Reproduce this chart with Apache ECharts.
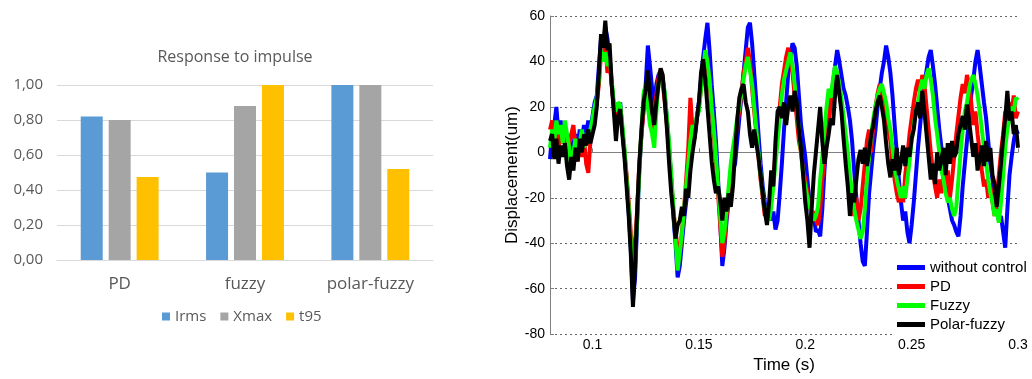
<!DOCTYPE html>
<html>
<head>
<meta charset="utf-8">
<script src="https://cdn.jsdelivr.net/npm/echarts@6/dist/echarts.min.js"></script>
<style>
  html, body { margin: 0; padding: 0; background: #fff; }
  #chart { width: 1032px; height: 379px; }
</style>
</head>
<body>
<div id="chart"></div>
<script>
// left panel: normalised indices per controller
const methods = ['PD', 'fuzzy', 'polar-fuzzy']
const irms = [0.82, 0.50, 1.00]
const xmax = [0.80, 0.88, 1.00]
const t95 = [0.475, 1.00, 0.52]

// right panel: displacement traces, sampled every 1 ms from 0.080 s to 0.300 s
const TIME_START = 0.08
const TIME_STEP = 0.001
const timeTicks = [0.1, 0.15, 0.2, 0.25, 0.3]

const withoutControl = [
  -3, 8, 12, 20, 8, 14, 5, 10, 2, 6,
  -2, 4, 8, 2, 10, 6, 12, 8, 14, 10,
  16, 22, 25, 38, 50, 46, 55, 50, 42, 30,
  20, 12, 18, 22, 10, 0, -12, -26, -42, -65,
  -55, -30, -8, 8, 20, 30, 47, 38, 28, 20,
  30, 34, 36, 32, 25, 14, 2, -12, -28, -40,
  -55, -50, -40, -30, -22, -15, -5, 2, 8, 15,
  22, 32, 42, 50, 57, 45, 30, 18, 5, -12,
  -30, -50, -42, -30, -22, -10, -8, -5, 5, 15,
  25, 35, 45, 55, 57, 48, 35, 22, 8, -5,
  -15, -22, -28, -25, -30, -26, -34, -30, -18, -5,
  10, 22, 35, 42, 48, 46, 38, 25, 12, 5,
  -2, -12, -22, -30, -28, -35, -34, -37, -25, -8,
  5, 15, 22, 30, 38, 45, 40, 34, 28, 25,
  20, 14, 5, -8, -20, -30, -40, -48, -50, -35,
  -18, -8, 2, 10, 20, 28, 35, 40, 47, 42,
  35, 25, 12, 0, -12, -22, -30, -26, -35, -40,
  -32, -22, -10, 2, 12, 22, 30, 36, 42, 45,
  38, 30, 20, 10, 2, -8, -15, -20, -25, -30,
  -32, -35, -37, -28, -15, -5, 5, 15, 25, 32,
  40, 45, 38, 30, 22, 15, 5, -5, -12, -20,
  -25, -30, -28, -35, -42, -25, -10, -2, 5, 10,
  8
]

const pd = [
  10, 14, 6, 12, 2, 8, 4, 10, -2, 4,
  8, 12, 2, -4, 4, -2, 6, -5, -9, 5,
  12, 18, 22, 30, 44, 40, 48, 35, 40, 30,
  20, 14, 18, 20, 10, 0, -10, -22, -36, -45,
  -40, -25, -5, 8, 18, 26, 22, 18, 10, 20,
  25, 33, 36, 30, 22, 12, 0, -12, -25, -35,
  -42, -45, -35, -25, -12, 2, 24, 10, 6, 15,
  20, 28, 35, 40, 38, 30, 18, 8, -5, -18,
  -32, -46, -40, -28, -18, -8, 0, 5, 12, 18,
  26, 35, 40, 46, 40, 28, 18, 8, -2, -12,
  -20, -28, -24, -28, -20, -12, 0, 10, 20, 30,
  36, 42, 46, 40, 35, 25, 15, 5, 0, -8,
  -12, -18, -22, -28, -26, -30, -32, -25, -12, -5,
  8, 14, 22, 30, 34, 30, 26, 20, 12, 5,
  -5, -15, -22, -28, -20, -30, -25, -15, -5, 5,
  10, 0, 12, 20, 26, 30, 22, 26, 18, 10,
  5, -5, -12, -18, -22, -15, -22, -10, -2, 8,
  15, 22, 28, 32, 26, 34, 30, 20, 10, 0,
  -8, -15, -20, -12, -18, -10, -15, -8, -20, -12,
  -2, 8, 16, 24, 30, 26, 34, 30, 22, 12,
  18, 8, 0, -8, -15, -12, -20, -15, -22, -28,
  -20, -10, 0, 8, 18, 14, 22, 18, 25, 15,
  18
]

const fuzzy = [
  2, 10, 5, 14, 8, 12, 4, 14, 8, 2,
  -8, 0, 6, -2, 4, 10, 2, 8, 4, 10,
  15, 20, 24, 32, 45, 40, 44, 38, 42, 32,
  22, 18, 22, 21, 12, 2, -12, -24, -40, -60,
  -48, -28, -8, 10, 26, 30, 20, 12, 8, 2,
  18, 30, 35, 32, 26, 15, 4, -10, -24, -38,
  -52, -44, -36, -25, -15, -5, 5, 12, 8, 16,
  18, 28, 36, 45, 40, 32, 20, 10, -2, -15,
  -28, -40, -35, -25, -15, -5, 2, 8, 15, 20,
  26, 32, 38, 42, 36, 30, 20, 10, 0, -10,
  -18, -25, -28, -30, -24, -15, -5, 5, 15, 25,
  32, 36, 40, 44, 38, 30, 20, 10, 0, -10,
  -15, -20, -24, -26, -30, -28, -24, -12, -2, 10,
  20, 28, 24, 32, 38, 35, 30, 24, 16, 8,
  0, -10, -18, -25, -30, -34, -38, -35, -25, -12,
  -2, 8, 15, 20, 25, 28, 30, 26, 22, 15,
  10, 2, -6, -12, -16, -20, -15, -20, -12, -4,
  5, 12, 18, 22, 28, 32, 28, 34, 37, 32,
  25, 15, 8, 0, -8, -12, -18, -22, -20, -25,
  -28, -24, -12, 0, 10, 18, 22, 28, 32, 34,
  30, 25, 18, 10, 2, -5, -12, -18, -22, -28,
  -25, -31, -22, -10, 2, 10, 15, 20, 18, 24,
  23
]

const polarFuzzy = [
  5, 8, -3, 6, -5, 3, -2, 4, -6, -12,
  -2, -8, 2, -4, 6, 0, 8, 3, 10, 4,
  8, 12, 20, 35, 52, 46, 58, 45, 48, 30,
  18, 5, 16, 19, 8, -2, -15, -28, -45, -68,
  -50, -25, -5, 10, 22, 28, 36, 25, 18, 12,
  22, 30, 37, 34, 22, 10, -5, -18, -27, -38,
  -32, -30, -24, -28, -16, -20, -8, 0, 6, 14,
  22, 35, 41, 32, 20, 8, -4, -12, -18, -15,
  -21, -30, -20, -26, -18, -24, -15, 0, 14, 24,
  28, 30, 22, 18, 8, 2, 10, 4, -2, -10,
  -18, -26, -32, -22, -8, -15, 5, 18, 20, 15,
  22, 12, 20, 25, 18, 27, 22, 10, 2, -10,
  -22, -30, -42, -25, -10, 0, 10, 20, 5, -5,
  2, 8, 15, 12, 25, 34, 26, 18, 6, -5,
  -15, -28, -18, -22, -12, -3, 1, -5, 2, -6,
  0, 8, 12, 18, 22, 25, 20, 14, 4, -5,
  -11, -3, -8, 2, -10, -4, 3, -6, 2, -2,
  6, 10, 18, 22, 15, 27, 18, 8, -2, -12,
  -5, -14, 0, -8, -3, 2, -10, 4, -5, 5,
  -2, 0, 8, 12, 16, 10, 21, 14, 6, -2,
  4, -8, -3, 3, -6, 5, -4, 2, -10, -14,
  -24, -15, -5, 6, 15, 27, 14, 18, 8, 12,
  2
]

const withTime = (values) =>
  values.map((v, i) => [+(TIME_START + i * TIME_STEP).toFixed(3), v])

const traces = [
  { name: 'without control', color: '#0000ff', values: withoutControl },
  { name: 'PD', color: '#ff0000', values: pd },
  { name: 'Fuzzy', color: '#00ff00', values: fuzzy },
  { name: 'Polar-fuzzy', color: '#000000', values: polarFuzzy },
]

const OFFICE_FONT = '"Open Sans", "Noto Sans", sans-serif'
const PLOT_FONT = '"Liberation Sans", Arial, sans-serif'

const chart = echarts.init(document.getElementById('chart'), null, { renderer: 'canvas' })

const barSeries = [
  { name: 'Irms', data: irms, color: '#5b9bd5' },
  { name: 'Xmax', data: xmax, color: '#a5a5a5' },
  { name: 't95', data: t95, color: '#ffc000' },
].map((s) => ({
  name: s.name,
  type: 'bar',
  xAxisIndex: 0,
  yAxisIndex: 0,
  barWidth: 22,
  barGap: '27%',
  itemStyle: { color: s.color },
  data: s.data,
}))

const lineSeries = traces.map((t) => ({
  name: t.name,
  type: 'line',
  xAxisIndex: 1,
  yAxisIndex: 1,
  showSymbol: false,
  symbol: 'none',
  lineStyle: { color: t.color, width: 4 },
  itemStyle: { color: t.color },
  data: withTime(t.values),
}))

const option = {
  animation: false,
  backgroundColor: '#fff',
  graphic: [
    {
      type: 'text',
      x: 235,
      y: 57,
      style: {
        text: 'Response to impulse',
        align: 'center',
        verticalAlign: 'middle',
        fill: '#595959',
        font: '16px "Open Sans", "Noto Sans", sans-serif',
      },
    },
  ],
  legend: [
    {
      data: ['Irms', 'Xmax', 't95'],
      left: 157,
      top: 304,
      icon: 'rect',
      itemWidth: 8,
      itemHeight: 8,
      itemGap: 14,
      textStyle: { color: '#595959', fontSize: 15, fontFamily: OFFICE_FONT },
    },
    {
      data: traces.map((t) => t.name),
      orient: 'vertical',
      left: 893,
      top: 257,
      icon: 'rect',
      itemWidth: 28,
      itemHeight: 5,
      itemGap: 2,
      padding: [2, 4, 2, 4],
      backgroundColor: '#fff',
      textStyle: { color: '#000', fontSize: 15, lineHeight: 17, fontFamily: PLOT_FONT },
    },
  ],
  grid: [
    { left: 57, top: 85, width: 376, height: 175 },
    { left: 550, top: 16, width: 468, height: 324 },
  ],
  xAxis: [
    {
      gridIndex: 0,
      type: 'category',
      data: methods,
      axisLine: { lineStyle: { color: '#d9d9d9', width: 1 } },
      axisTick: { show: false },
      axisLabel: { color: '#595959', fontSize: 17, fontFamily: OFFICE_FONT, margin: 16 },
    },
    {
      gridIndex: 1,
      type: 'value',
      min: 0.08,
      max: 0.3,
      name: 'Time (s)',
      nameLocation: 'middle',
      nameGap: 18,
      nameTextStyle: { color: '#000', fontSize: 17, fontFamily: PLOT_FONT },
      axisLine: { show: true, lineStyle: { color: '#808080', width: 1 } },
      axisTick: { inside: true, length: 4, lineStyle: { color: '#808080' }, customValues: timeTicks },
      axisLabel: {
        color: '#000',
        fontSize: 14,
        fontFamily: PLOT_FONT,
        margin: 4,
        customValues: timeTicks,
        formatter: (v) => String(v),
      },
      splitLine: { show: false },
    },
  ],
  yAxis: [
    {
      gridIndex: 0,
      type: 'value',
      min: 0,
      max: 1,
      interval: 0.2,
      axisLine: { show: false },
      axisTick: { show: false },
      axisLabel: {
        color: '#595959',
        fontSize: 15,
        fontFamily: OFFICE_FONT,
        margin: 14,
        formatter: (v) => v.toFixed(2).replace('.', ','),
      },
      splitLine: { lineStyle: { color: '#d9d9d9', width: 1 } },
    },
    {
      gridIndex: 1,
      type: 'value',
      min: -80,
      max: 60,
      interval: 20,
      name: 'Displacement(um)',
      nameLocation: 'middle',
      nameGap: 28,
      nameTextStyle: { color: '#000', fontSize: 17, fontFamily: PLOT_FONT },
      axisLine: { show: true, lineStyle: { color: '#808080', width: 1 } },
      axisTick: { show: true, inside: true, length: 4, lineStyle: { color: '#808080' } },
      axisLabel: { color: '#000', fontSize: 14, fontFamily: PLOT_FONT, margin: 5 },
      splitLine: { lineStyle: { color: '#666', width: 1, type: [2, 3] } },
    },
  ],
  series: [...barSeries, ...lineSeries],
}

chart.setOption(option)
</script>
</body>
</html>
